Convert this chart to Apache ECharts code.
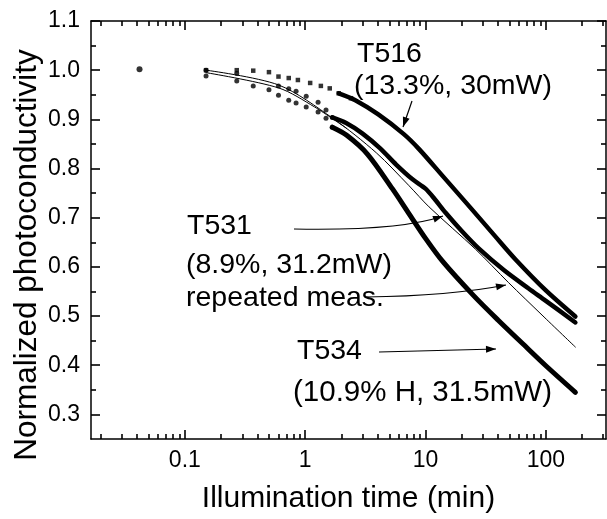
<!DOCTYPE html>
<html><head><meta charset="utf-8">
<script src="https://cdn.jsdelivr.net/npm/echarts@6/dist/echarts.min.js"></script>
<style>html,body{margin:0;padding:0;background:#fff}#c{width:607px;height:519px}</style>
</head><body><div id="c"></div>
<script>
// ---- tick labels / positions ----
const xTickLabels = ['0.1', '1', '10', '100'];
const xMajorTicks = [0.1, 1, 10, 100];
const xMinorTicks = [0.02,0.03,0.04,0.05,0.06,0.07,0.08,0.09,
  0.2,0.3,0.4,0.5,0.6,0.7,0.8,0.9, 2,3,4,5,6,7,8,9, 20,30,40,50,60,70,80,90, 200,300];
const yTickLabels = ['0.3','0.4','0.5','0.6','0.7','0.8','0.9','1.0','1.1'];
const yMajorTicks = [0.3,0.4,0.5,0.6,0.7,0.8,0.9,1.0,1.1];
const yMinorTicks = [0.35,0.45,0.55,0.65,0.75,0.85,0.95,1.05];

// ---- data (illumination time in min, normalized photoconductivity) ----
const firstX = [0.042];
const firstY = [1.002];

const t516EarlyX = [0.15, 0.27, 0.37, 0.5, 0.6, 0.73, 0.87, 1.1, 1.35, 1.6, 1.9, 2.4];
const t516EarlyY = [1.0, 1.0, 0.999, 0.996, 0.987, 0.984, 0.98, 0.974, 0.968, 0.963, 0.953, 0.943];
const t516X = [1.9, 2.61, 4.05, 6.6, 8.8, 14.1, 23.9, 38, 56, 100, 176];
const t516Y = [0.953, 0.939, 0.91, 0.87, 0.84, 0.783, 0.719, 0.662, 0.615, 0.552, 0.499];

const t531EarlyX = [0.15, 0.27, 0.6, 0.73, 0.84, 1.02, 1.28, 1.49, 1.68];
const t531EarlyY = [1.0, 0.993, 0.968, 0.962, 0.957, 0.947, 0.935, 0.919, 0.904];
const t531X = [1.68, 2.19, 3.0, 4.2, 5.7, 7.8, 10, 12, 14.7, 20, 27.8, 45, 72, 100, 176];
const t531Y = [0.904, 0.8925, 0.871, 0.841, 0.808, 0.778, 0.759, 0.737, 0.71, 0.673, 0.637, 0.593, 0.556, 0.531, 0.487];

const t534EarlyX = [0.15, 0.27, 0.37, 0.5, 0.6, 0.73, 0.84, 1.02, 1.28, 1.49, 1.68];
const t534EarlyY = [0.988, 0.978, 0.968, 0.96, 0.949, 0.939, 0.933, 0.925, 0.915, 0.902, 0.884];
const t534X = [1.68, 2.2, 3.3, 5.3, 7.3, 10, 14, 25, 40, 70, 100, 176];
const t534Y = [0.884, 0.868, 0.829, 0.759, 0.708, 0.658, 0.61, 0.542, 0.492, 0.435, 0.399, 0.345];

const repeatX = [0.15, 0.6, 1.7, 3.9, 7.3, 10.7, 26, 49, 93, 176];
const repeatY = [1.0, 0.97, 0.902, 0.832, 0.765, 0.722, 0.636, 0.568, 0.502, 0.437];
const repeat2X = [0.15, 0.6, 1.2, 2.2];
const repeat2Y = [0.995, 0.964, 0.925, 0.882];

// ---- helpers ----
const L = v => Math.log10(v);
const pts = (xs, ys) => xs.map((x, i) => [L(x), ys[i]]);
const FONT = '"Liberation Sans", Arial, Helvetica, sans-serif';
const X_MIN = -1.78, X_MAX = 2.5, Y_MIN = 0.25, Y_MAX = 1.1;
const GRID = { left: 91, top: 21, right: 1, bottom: 80 };
const PLOT_W = 607 - GRID.left - GRID.right, PLOT_H = 519 - GRID.top - GRID.bottom;
// tick lengths expressed in axis units (major 9 px, minor 5 px)
const xLen = p => p * (Y_MAX - Y_MIN) / PLOT_H;
const yLen = p => p * (X_MAX - X_MIN) / PLOT_W;

const chart = echarts.init(document.getElementById('c'), null, { renderer: 'canvas' });

const axisLine = { show: true, onZero: false, lineStyle: { color: '#000', width: 1.5 } };
const xAxes = [
  {
    type: 'value', position: 'bottom', min: X_MIN, max: X_MAX, axisLine,
    axisTick: { show: false }, splitLine: { show: false },
    axisLabel: {
      show: true, customValues: xMajorTicks.map(L), margin: 10,
      color: '#000', fontSize: 23, fontFamily: FONT,
      formatter: v => { const i = xMajorTicks.findIndex(t => Math.abs(L(t) - v) < 1e-6); return i >= 0 ? xTickLabels[i] : ''; }
    },
    name: 'Illumination time (min)', nameLocation: 'middle', nameGap: 45,
    nameTextStyle: { color: '#000', fontSize: 30, fontFamily: FONT }
  },
  { type: 'value', position: 'top', min: X_MIN, max: X_MAX, axisLine,
    axisTick: { show: false }, axisLabel: { show: false }, splitLine: { show: false } }
];
const yAxes = [
  {
    type: 'value', position: 'left', min: Y_MIN, max: Y_MAX, axisLine,
    axisTick: { show: false }, splitLine: { show: false },
    axisLabel: {
      show: true, customValues: yMajorTicks, margin: 11,
      color: '#000', fontSize: 23, fontFamily: FONT,
      formatter: v => { const i = yMajorTicks.findIndex(t => Math.abs(t - v) < 1e-6); return i >= 0 ? yTickLabels[i] : ''; }
    }
  },
  { type: 'value', position: 'right', min: Y_MIN, max: Y_MAX, axisLine,
    axisTick: { show: false }, axisLabel: { show: false }, splitLine: { show: false } }
];

// tick segments drawn by a 'lines' series on the axes' own scales
const tickSegs = [];
function xTick(v, p) {
  const x = L(v);
  tickSegs.push({ coords: [[x, Y_MIN], [x, Y_MIN + xLen(p)]] });
  tickSegs.push({ coords: [[x, Y_MAX], [x, Y_MAX - xLen(p)]] });
}
function yTick(v, p) {
  tickSegs.push({ coords: [[X_MIN, v], [X_MIN + yLen(p), v]] });
  tickSegs.push({ coords: [[X_MAX, v], [X_MAX - yLen(p), v]] });
}
xMajorTicks.forEach(v => xTick(v, 9));
xMinorTicks.forEach(v => xTick(v, 5));
yMajorTicks.forEach(v => yTick(v, 9));
yMinorTicks.forEach(v => yTick(v, 5));

function scatter(name, xs, ys, symbol, size) {
  return { name, type: 'scatter', data: pts(xs, ys), symbol, symbolSize: size,
    itemStyle: { color: '#000' }, silent: true, z: 3 };
}
function line(name, xs, ys, w) {
  return { name, type: 'line', data: pts(xs, ys), showSymbol: false, smooth: 0.3,
    lineStyle: { color: '#000', width: w, cap: 'round', join: 'round' }, silent: true, z: 2 };
}

// annotation arrows
function arrow(x1, y1, cx, cy, x2, y2) {
  const els = [];
  if (cx === null) {
    els.push({ type: 'line', shape: { x1, y1, x2, y2 }, style: { stroke: '#000', lineWidth: 1.2 } });
    cx = x1; cy = y1;
  } else {
    els.push({ type: 'bezierCurve', shape: { x1, y1, x2, y2, cpx1: cx, cpy1: cy }, style: { stroke: '#000', lineWidth: 1.2, fill: null } });
  }
  const dx = x2 - cx, dy = y2 - cy, d = Math.hypot(dx, dy);
  const ux = dx / d, uy = dy / d, len = 10, hw = 3.5;
  const bx = x2 - ux * len, by = y2 - uy * len;
  els.push({ type: 'polygon', shape: { points: [[x2, y2], [bx - uy * hw, by + ux * hw], [bx + uy * hw, by - ux * hw]] }, style: { fill: '#000' } });
  return els;
}
function label(text, x, y, size) {
  return { type: 'text', x, y, style: { text, fill: '#000', font: (size || 28.5) + 'px ' + FONT, align: 'left', verticalAlign: 'middle' }, z: 10 };
}

const annotations = [
  label('T516', 357, 54.5),
  label('(13.3%, 30mW)', 354, 86),
  label('T531', 187, 226),
  label('(8.9%, 31.2mW)', 186, 265),
  label('repeated meas.', 186, 298),
  label('T534', 297, 351.5),
  label('(10.9% H, 31.5mW)', 293, 393, 29.5),
  { type: 'text', x: 27, y: 255, rotation: Math.PI / 2,
    style: { text: 'Normalized photoconductivity', fill: '#000', font: '31.5px ' + FONT, align: 'center', verticalAlign: 'middle' } },
  ...arrow(412, 101, null, null, 403, 127),
  ...arrow(294, 229, 400, 231, 443, 216),
  ...arrow(366, 297, 450, 296, 506, 285),
  ...arrow(379, 352, null, null, 496, 349)
];

chart.setOption({
  animation: false,
  backgroundColor: '#fff',
  grid: Object.assign({ containLabel: false }, GRID),
  xAxis: xAxes,
  yAxis: yAxes,
  graphic: annotations,
  series: [
    { name: 'ticks', type: 'lines', coordinateSystem: 'cartesian2d', data: tickSegs,
      symbol: 'none', silent: true, z: 6, clip: false,
      lineStyle: { color: '#000', width: 1.6, opacity: 1, curveness: 0 } },
    scatter('first', firstX, firstY, 'circle', 6),
    scatter('T516 early', t516EarlyX, t516EarlyY, 'rect', 4.5),
    scatter('T531 early', t531EarlyX, t531EarlyY, 'circle', 5),
    scatter('T534 early', t534EarlyX, t534EarlyY, 'circle', 5),
    line('T516', t516X, t516Y, 4.5),
    line('T531', t531X, t531Y, 4.5),
    line('T534', t534X, t534Y, 5),
    line('T531 repeated', repeatX, repeatY, 1),
    line('T531 repeated 2', repeat2X, repeat2Y, 1)
  ]
});
</script></body></html>
